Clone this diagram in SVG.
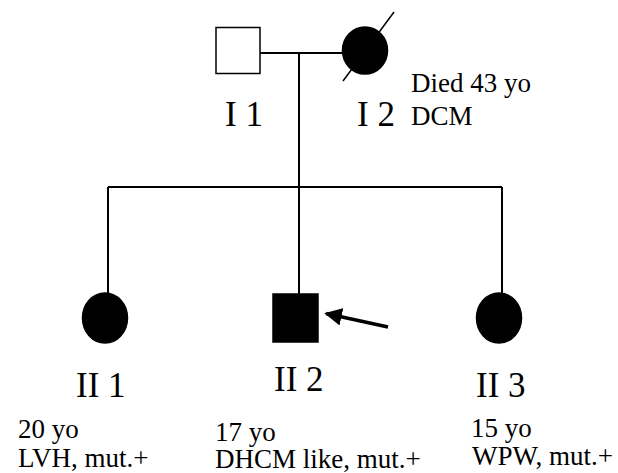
<svg xmlns="http://www.w3.org/2000/svg" width="618" height="473" viewBox="0 0 618 473">
<style>
  text { font-family: "Liberation Serif", "Times New Roman", serif; fill: #000; }
  .gen { font-size: 35px; }
  .note { font-size: 27px; }
  .link { stroke: #000; stroke-width: 2; fill: none; }
  .aff { fill: #000; stroke: #000; stroke-width: 1.5; }
  .unaff { fill: #fff; stroke: #000; stroke-width: 1.5; }
</style>
<defs>
  <marker id="ah" viewBox="0 0 10 10" refX="9" refY="5" markerWidth="5" markerHeight="5" orient="auto" markerUnits="strokeWidth">
    <path d="M0,0 L10,5 L0,10 Z" fill="#000"/>
  </marker>
</defs>
<rect width="618" height="473" fill="#fff"/>
<g id="connectors">
  <line class="link" x1="260" y1="53" x2="343" y2="53"/>
  <line class="link" x1="299" y1="53" x2="299" y2="187"/>
  <line class="link" x1="108" y1="187" x2="502" y2="187"/>
  <line class="link" x1="108" y1="187" x2="108" y2="294"/>
  <line class="link" x1="299" y1="187" x2="299" y2="294"/>
  <line class="link" x1="502" y1="187" x2="502" y2="294"/>
  <line stroke="#000" stroke-width="3.5" x1="388" y1="327" x2="326" y2="313.5" marker-end="url(#ah)"/>
</g>
<g id="I1">
  <rect class="unaff" x="216" y="27.5" width="44" height="46"/>
  <text class="gen" x="225" y="126">I 1</text>
</g>
<g id="I2">
  <ellipse class="aff" cx="365" cy="50.5" rx="22.5" ry="23.5"/>
  <line stroke="#000" stroke-width="1.5" x1="343" y1="81" x2="394" y2="12"/>
  <text class="gen" x="357" y="126">I 2</text>
  <text class="note" x="411" y="92">Died 43 yo</text>
  <text class="note" x="411" y="125">DCM</text>
</g>
<g id="II1">
  <ellipse class="aff" cx="105" cy="318" rx="22.5" ry="25"/>
  <text class="gen" x="76" y="397">II 1</text>
  <text class="note" x="18" y="438">20 yo</text>
  <text class="note" x="18" y="467">LVH, mut.+</text>
</g>
<g id="II2">
  <rect class="aff" x="273" y="294" width="45" height="48"/>
  <text class="gen" x="274" y="391">II 2</text>
  <text class="note" x="215" y="441">17 yo</text>
  <text class="note" x="215" y="468">DHCM like, mut.+</text>
</g>
<g id="II3">
  <ellipse class="aff" cx="499" cy="318" rx="22.5" ry="25"/>
  <text class="gen" x="476" y="397">II 3</text>
  <text class="note" x="471" y="437">15 yo</text>
  <text class="note" x="472" y="465">WPW, mut.+</text>
</g>
</svg>
